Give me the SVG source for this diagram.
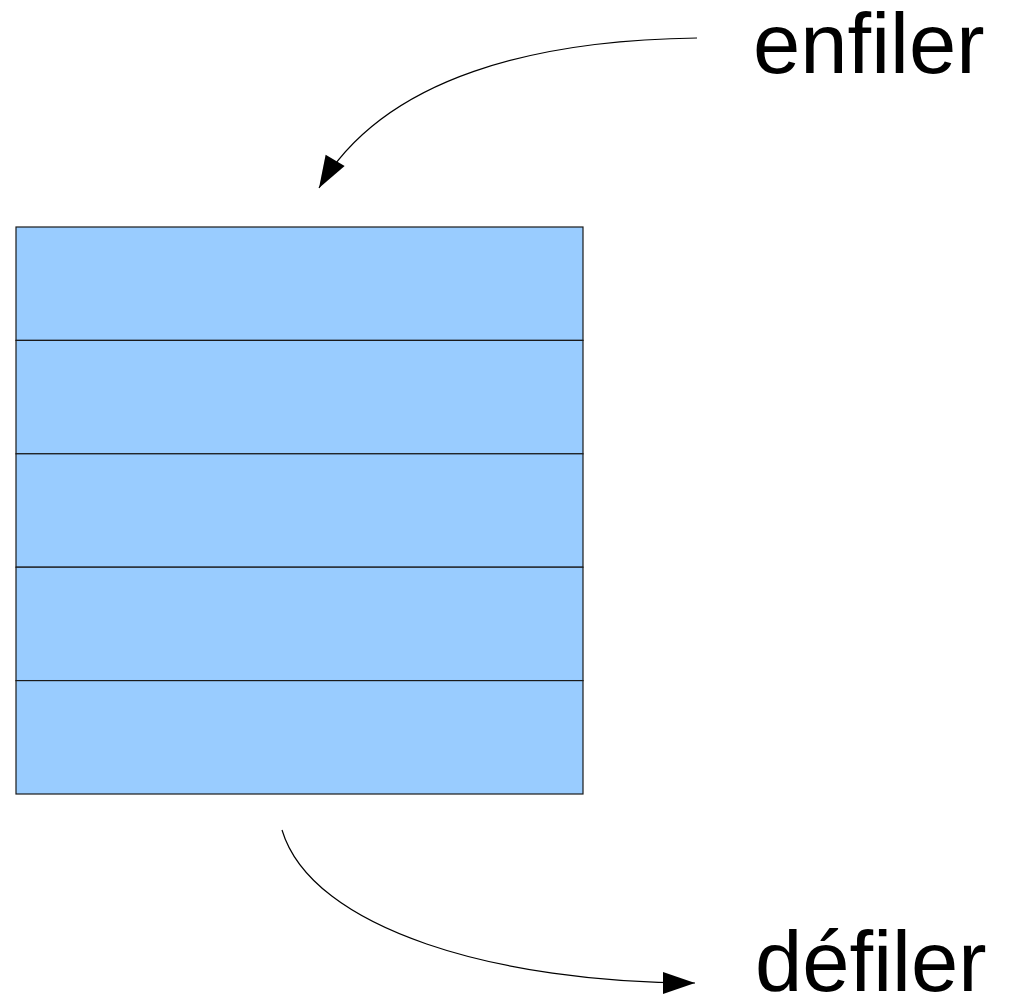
<svg xmlns="http://www.w3.org/2000/svg" width="1013" height="997" viewBox="0 0 1013 997">
<style>
.cell{fill:#99ccff;stroke:#1a1a1a;stroke-width:1.2}
.conn{fill:none;stroke:#000;stroke-width:1.2}
.lbl{font-family:"Liberation Sans",Arial,sans-serif;font-size:85px;fill:#000}
</style>
<defs>
<marker id="ah" markerUnits="userSpaceOnUse" markerWidth="34" markerHeight="24" refX="32" refY="11" orient="auto" overflow="visible">
<path d="M0,0 L32,11 L0,22 Z" fill="#000"/>
</marker>
</defs>
<rect width="1013" height="997" fill="#fff"/>
<g id="queue">
<rect id="cell1" class="cell" x="16" y="227" width="567" height="113.4"/>
<rect id="cell2" class="cell" x="16" y="340.4" width="567" height="113.4"/>
<rect id="cell3" class="cell" x="16" y="453.8" width="567" height="113.4"/>
<rect id="cell4" class="cell" x="16" y="567.2" width="567" height="113.4"/>
<rect id="cell5" class="cell" x="16" y="680.6" width="567" height="113.4"/>
</g>
<g id="connectors">
<path class="conn" d="M697,38 C540,40 385,75 319,188" marker-end="url(#ah)"/>
<path class="conn" d="M282,830 C312,930 500,983 695,983" marker-end="url(#ah)"/>
</g>
<g id="enfiler"><text class="lbl" x="753" y="73">enfiler</text></g>
<g id="defiler"><text class="lbl" x="755" y="991">défiler</text></g>
</svg>
